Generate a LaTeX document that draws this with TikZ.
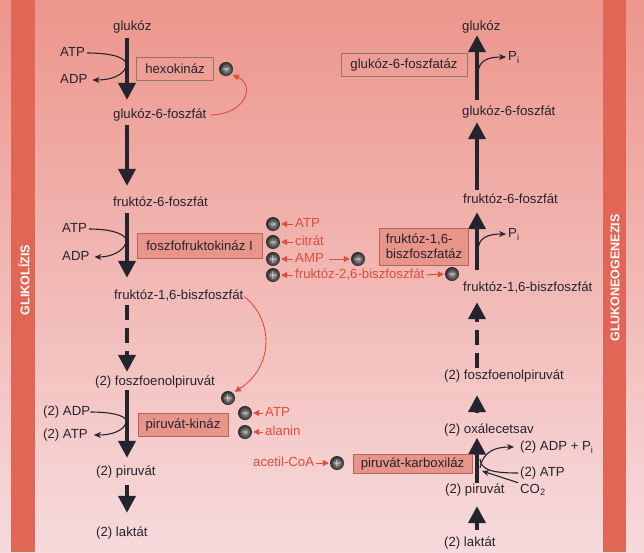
\documentclass[tikz,border=0pt]{standalone}
\usepackage{fontspec}
\setmainfont{Liberation Sans}
\usetikzlibrary{arrows.meta}

\definecolor{bgtop}{RGB}{236,150,140}
\definecolor{bgmid}{RGB}{243,190,188}
\definecolor{bgbot}{RGB}{247,218,220}
\definecolor{bandred}{RGB}{226,102,86}
\definecolor{enzfill}{RGB}{233,148,136}
\definecolor{enzline}{RGB}{180,100,92}
\definecolor{regred}{RGB}{226,76,58}
\definecolor{ink}{RGB}{36,36,46}

\begin{document}
\begin{tikzpicture}[x=1pt,y=-1pt,font=\fontsize{13.2}{15}\selectfont]
\tikzstyle{metab}=[anchor=west, inner sep=0pt, text height=10pt, text depth=3pt, text=ink]
\tikzstyle{enzyme}=[draw=enzline, fill=enzfill, text=ink, inner sep=0pt, line width=0.6pt]
\tikzstyle{plain enzyme}=[enzyme, draw=gray!60!enzline, fill=none]
\tikzstyle{main step}=[draw=ink, line width=4pt, -{Triangle[width=17pt,length=17pt]}]
\tikzstyle{side arrow}=[draw=ink, line width=1.1pt, -{Stealth[width=6pt,length=7pt]}]
\tikzstyle{effector}=[circle, inner color=gray!70, outer color=gray!30!black, minimum size=14pt, inner sep=0pt, text=white, font=\bfseries\fontsize{13}{13}\selectfont]
\tikzstyle{reg label}=[metab, text=regred]
\tikzstyle{reg arrow}=[draw=regred, line width=1pt, -{Triangle[width=6pt,length=6pt]}]
\tikzstyle{band label}=[rotate=90, text=white, font=\bfseries\fontsize{12.5}{12.5}\selectfont]

% Background and the two side bands
\shade[top color=bgtop, middle color=bgmid, bottom color=bgbot] (0,0) rectangle (644,552);
\fill[bandred] (11,0) rectangle (35,552);
\fill[bandred] (603,0) rectangle (626,552);
\node[band label] (glyc) at (24,280) {GLIKOLÍZIS};
\node[band label] (gng) at (615,278) {GLUKONEOGENEZIS};

% Axes of the two pathways
\coordinate (axisL) at (127,0);
\coordinate (axisR) at (477,0);

% Draw the glycolysis metabolites
\foreach \name/\x/\y/\txt in {glc1/113/27/glukóz, g6p1/113/115/glukóz-6-foszfát,
    f6p1/113/203/fruktóz-6-foszfát, fbp1/114/296/{fruktóz-1,6-biszfoszfát},
    pep1/95/382/(2) foszfoenolpiruvát, pyr1/96/472/(2) piruvát, lac1/96/533/(2) laktát}
  \node[metab] (\name) at (\x,\y) {\txt};

% Draw the gluconeogenesis metabolites
\foreach \name/\x/\y/\txt in {glc2/462/27/glukóz, g6p2/462/112/glukóz-6-foszfát,
    f6p2/463/200/fruktóz-6-foszfát, fbp2/463/288/{fruktóz-1,6-biszfoszfát},
    pep2/444/376/(2) foszfoenolpiruvát, oxa2/444/430/(2) oxálecetsav,
    pyr2/445/490/(2) piruvát, lac2/444/543/(2) laktát}
  \node[metab] (\name) at (\x,\y) {\txt};

% Connect the glycolysis steps
\foreach \source/\dest/\s/\e in {glc1/g6p1/4.5pt/8.5pt, g6p1/f6p1/3.5pt/10.5pt,
    f6p1/fbp1/3.5pt/11.5pt, pep1/pyr1/1.5pt/7.5pt, pyr1/lac1/6.5pt/13.5pt}
  \draw[main step, shorten <=\s, shorten >=\e] (\source.south -| axisL) -- (\dest.north -| axisL);
\draw[main step, dash pattern=on 15pt off 8pt, shorten <=2.5pt, shorten >=3.5pt] (fbp1.south -| axisL) -- (pep1.north -| axisL);

% Connect the gluconeogenesis steps
\foreach \source/\dest/\s/\e in {lac2/pyr2/6.5pt/9.5pt, pyr2/oxa2/0pt/1pt,
    oxa2/pep2/10.5pt/12.5pt, fbp2/f6p2/11.5pt/5.5pt, f6p2/g6p2/3.5pt/3.5pt,
    g6p2/glc2/5.5pt/1.5pt}
  \draw[main step, shorten <=\s, shorten >=\e] (\source.north -| axisR) -- (\dest.south -| axisR);
\draw[main step, dash pattern=on 15pt off 8pt, shorten <=1.5pt, shorten >=7.5pt] (pep2.north -| axisR) -- (fbp2.south -| axisR);

% Enzymes
\node[plain enzyme, minimum width=77pt, minimum height=23pt] (hk) at (175,68.5) {hexokináz};
\node[enzyme, minimum width=125pt, minimum height=25pt] (pfk) at (199.5,245.5) {foszfofruktokináz I};
\node[enzyme, minimum width=90pt, minimum height=23pt] (pk) at (183,424.5) {piruvát-kináz};
\node[plain enzyme, minimum width=126pt, minimum height=23pt] (g6pase) at (404,65) {glukóz-6-foszfatáz};
\node[enzyme, minimum width=89pt, minimum height=37pt, align=left, inner xsep=6pt] (fbpase) at (424,246.5) {fruktóz-1,6-\\biszfoszfatáz};
\node[enzyme, minimum width=119pt, minimum height=19pt] (pc) at (412.5,464) {piruvát-karboxiláz};

% Side reactions of glycolysis
\node[metab] (atp1) at (60,53) {ATP};
\node[metab] (adp1) at (60,80) {ADP};
\node[metab] (atp2) at (62,229) {ATP};
\node[metab] (adp2) at (62,257) {ADP};
\node[metab] (adp3) at (43,412) {(2) ADP};
\node[metab] (atp3) at (43,435) {(2) ATP};
\draw[side arrow, shorten <=2pt, shorten >=5pt] (atp1.east) .. controls (116,53) and (129,59) .. (126,67) .. controls (123,75) and (112,80) .. (adp1.east);
\draw[side arrow, shorten <=2pt, shorten >=5pt] (atp2.east) .. controls (116,229) and (129,236) .. (126,243) .. controls (123,251) and (112,257) .. (adp2.east);
\draw[side arrow, shorten <=0pt, shorten >=6pt] (adp3.east) .. controls (116,412) and (129,417) .. (126,423) .. controls (123,431) and (112,435) .. (atp3.east);

% Side reactions of gluconeogenesis
\node[metab] (pi1) at (508,57) {P\textsubscript{i}};
\node[metab] (pi2) at (508,234) {P\textsubscript{i}};
\node[metab] (adp4) at (520,447) {(2) ADP + P\textsubscript{i}};
\node[metab] (atp4) at (520,473) {(2) ATP};
\node[metab] (co2) at (520,490) {CO\textsubscript{2}};
\coordinate (br1) at (478,74);
\coordinate (br2) at (478,251);
\coordinate (br3) at (480,468);
\coordinate (br4) at (480,459);
\coordinate (br5) at (482,471);
\draw[side arrow, shorten >=2pt] (br1) .. controls (478,61) and (487,57) .. (pi1.west);
\draw[side arrow, shorten >=2pt] (br2) .. controls (478,238) and (487,234) .. (pi2.west);
\draw[side arrow, shorten >=6pt] (br3) .. controls (483,452) and (494,447) .. (adp4.west);
\draw[draw=ink, line width=1.1pt, shorten <=2pt] (atp4.west) .. controls (492,473) and (481,470) .. (br4);
\draw[side arrow, shorten <=2pt] (co2.north west) -- (br5);

% Effectors of the regulated enzymes
\node[effector] (hkm) at (226,69) {$-$};
\foreach \name/\y/\sign/\txt in {pfka/224/-/ATP, pfkb/242/-/citrát, pfkc/259/+/AMP,
    pfkd/275/+/{fruktóz-2,6-biszfoszfát}} {
  \node[effector] (\name) at (273,\y) {$\sign$};
  \node[reg label] (\name-l) at (295,\y) {\txt};
  \draw[reg arrow, shorten <=2pt, shorten >=1pt] (\name-l.west) -- (\name.east);
}
\node[effector] (fbpm1) at (358,259) {$-$};
\node[effector] (fbpm2) at (452,274) {$-$};
\draw[reg arrow, shorten <=5pt, shorten >=1pt] (pfkc-l.east) -- (fbpm1.west);
\draw[reg arrow, shorten <=2pt, shorten >=1pt] (pfkd-l.east) -- (fbpm2.west);

\node[effector] (pkp) at (228,398) {$+$};
\foreach \name/\y/\txt in {pka/413/ATP, pkb/432/alanin} {
  \node[effector] (\name) at (245,\y) {$-$};
  \node[reg label] (\name-l) at (265,\y) {\txt};
  \draw[reg arrow, shorten <=2pt, shorten >=1pt] (\name-l.west) -- (\name.east);
}
\node[effector] (pcp) at (337,463) {$+$};
\node[reg label] (acoa) at (253,463) {acetil-CoA};
\draw[reg arrow, shorten <=2pt, shorten >=1pt] (acoa.east) -- (pcp.west);

% Feedback and feed-forward loops
\draw[reg arrow, line width=0.9pt, shorten <=3pt, shorten >=2pt] (g6p1.east) .. controls (245,115) and (256,86) .. (hkm.south east);
\draw[reg arrow, line width=0.9pt, shorten <=1pt, shorten >=2pt] (fbp1.east) .. controls (272,318) and (276,365) .. (pkp.north east);
\end{tikzpicture}
\end{document}
